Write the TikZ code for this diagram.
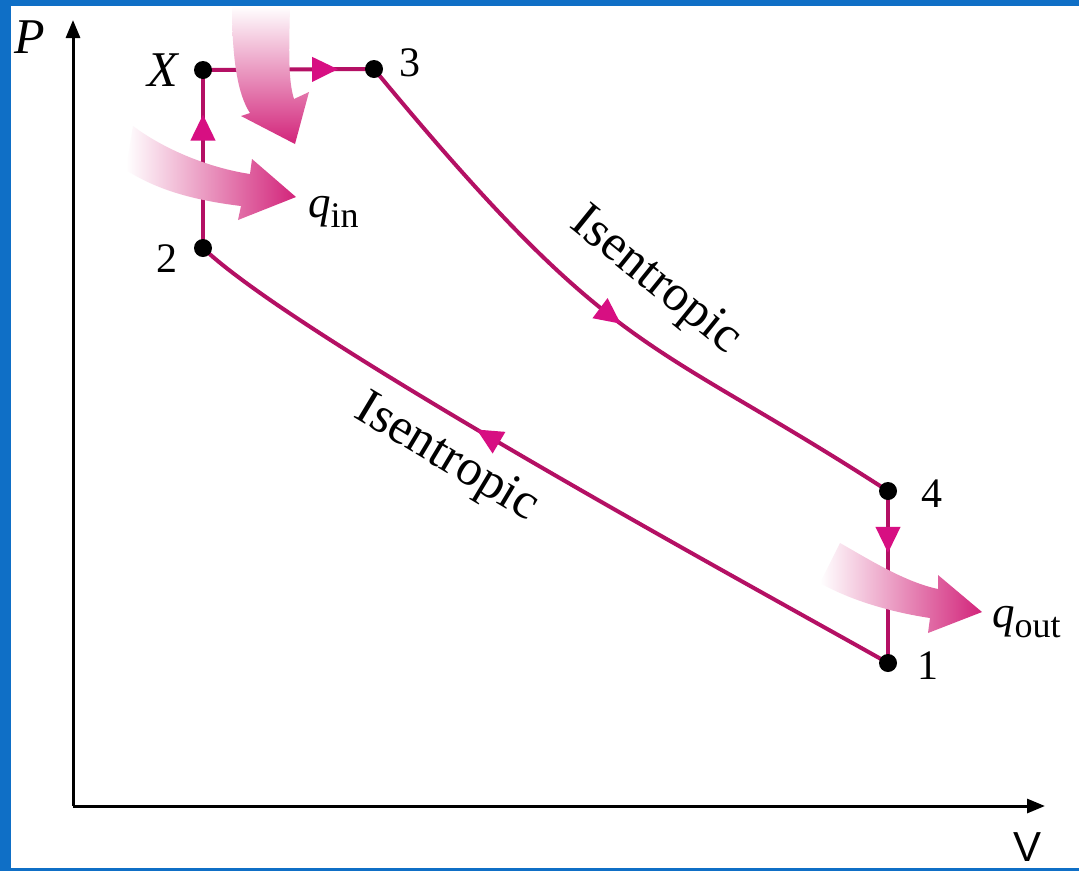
\documentclass[tikz,border=0pt]{standalone}
\usepackage{fontspec}
\setmainfont{Liberation Serif}
\newfontfamily\vfont{Liberation Sans}
\usetikzlibrary{arrows.meta,decorations.markings}
\definecolor{frameblue}{RGB}{15,111,198}
\definecolor{cyc}{RGB}{180,16,100}
\definecolor{cychead}{RGB}{215,15,130}
\definecolor{heat}{RGB}{210,36,122}
\newcommand{\subtxt}[1]{\raisebox{-10pt}{\fontsize{36}{36}\selectfont #1}}
\begin{document}
\begin{tikzpicture}[x=1pt,y=-1pt,
  axis/.style={line width=3pt, -{Triangle[length=18pt,width=14pt]}},
  cycline/.style={line width=4pt, draw=cyc},
  dot/.style={circle, fill=black, inner sep=0pt, minimum size=18pt},
  lbl/.style={font=\fontsize{42}{48}\selectfont, inner sep=0pt},
  isen/.style={font=\fontsize{51}{56}\selectfont, inner sep=0pt},
  midarrow/.style={postaction={decorate}, decoration={markings,
     mark=at position #1 with {\arrow[cychead]{Triangle[length=26pt,width=24pt]}}}}
]
% frame
\fill[frameblue] (0,0) rectangle (1079,871);
\fill[white] (11,6) rectangle (1079,868);
\useasboundingbox (0,0) rectangle (1079,871);

% axes
\coordinate (O) at (73,806);
\coordinate (Ptip) at (73,20);
\coordinate (Vtip) at (1045,806);
\draw[axis] (O) -- (Ptip);
\draw[axis] (O) -- (Vtip);
\node[lbl, font=\fontsize{50}{54}\selectfont\itshape] (Plbl) at (30,37) {P};
\node[lbl, font=\fontsize{42}{46}\selectfont\vfont] (Vlbl) at (1027,847) {V};

% state points
\coordinate (cX) at (203,70);
\coordinate (c3) at (374,69);
\coordinate (c2) at (203,248);
\coordinate (c4) at (888,491);
\coordinate (c1) at (888,663);

% cycle
\draw[cycline, midarrow=0.75] (c2) -- (cX);
\draw[cycline, midarrow=0.79] (cX) -- (c3);
\draw[cycline, midarrow=0.53] (c3) .. controls (616,362) and (645,334) .. (c4);
\draw[cycline, midarrow=0.36] (c4) -- (c1);
\draw[cycline, midarrow=0.59] (c1) .. controls (788,606) and (303,343) .. (c2);

% heat arrows
\shade[left color=white, right color=heat] (133,126) .. controls (165,150) and (210,168) .. (250,174)
  -- (252,159) -- (296,197) -- (238,220) -- (241,206) .. controls (200,201) and (160,192) .. (126,170) -- cycle;
\shade[top color=white, bottom color=heat] (232,6) .. controls (232,60) and (238,95) .. (250,113)
  -- (241,116) -- (295,144) -- (309,92) -- (294,99) .. controls (288,80) and (289,50) .. (290,6) -- cycle;
\shade[left color=white, right color=heat] (840,543) .. controls (870,560) and (905,582) .. (938,589)
  -- (938,575) -- (982,612) -- (928,633) -- (930,618) .. controls (890,612) and (850,600) .. (820,583) -- cycle;

% dots
\node[dot] (X) at (cX) {};
\node[dot] (p3) at (c3) {};
\node[dot] (p2) at (c2) {};
\node[dot] (p4) at (c4) {};
\node[dot] (p1) at (c1) {};

% labels
\node[lbl, font=\fontsize{50}{54}\selectfont\itshape] (Xlbl) at (163,70) {X};
\node[lbl] (l3) at (410,63) {3};
\node[lbl] (l2) at (167,259) {2};
\node[lbl] (l4) at (932,494) {4};
\node[lbl] (l1) at (928,666) {1};
\node[lbl, anchor=base west, font=\fontsize{45}{50}\selectfont] (qin) at (308,217) {\textit{q}\subtxt{in}};
\node[lbl, anchor=base west, font=\fontsize{45}{50}\selectfont] (qout) at (992,627) {\textit{q}\subtxt{out}};
\node[isen, rotate=-39] (is1) at (655,282) {Isentropic};
\node[isen, rotate=-31] (is2) at (446,459) {Isentropic};
\end{tikzpicture}
\end{document}
